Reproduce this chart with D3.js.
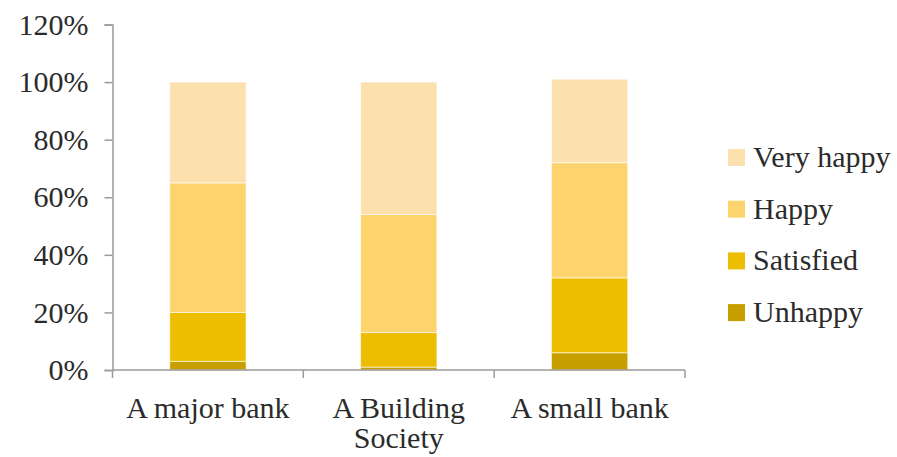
<!DOCTYPE html>
<html>
<head>
<meta charset="utf-8">
<script src="https://cdn.jsdelivr.net/npm/d3@7"></script>
<style>
  html, body { margin: 0; padding: 0; background: #fff; }
</style>
</head>
<body>
<svg id="chart" width="897" height="457"></svg>
<script>
// Survey: how happy customers are with their bank (share of respondents)
const categories = [["A major bank"], ["A Building", "Society"], ["A small bank"]];
const seriesNames = ["Unhappy", "Satisfied", "Happy", "Very happy"];
const unhappy   = [3, 1, 6];
const satisfied = [17, 12, 26];
const happy     = [45, 41, 40];
const veryHappy = [35, 46, 29];
const yTicks = [0, 20, 40, 60, 80, 100, 120];
const colors = ["#c79f00", "#edbe00", "#fdd36e", "#fce1ae"];

const FONT = "Liberation Serif";

const rows = categories.map((c, i) => ({
  key: c.join(" "),
  lines: c,
  "Unhappy": unhappy[i],
  "Satisfied": satisfied[i],
  "Happy": happy[i],
  "Very happy": veryHappy[i]
}));

const svg = d3.select("#chart");
const margin = { left: 112.5, right: 212, top: 24.5, bottom: 87 };
const W = 897, H = 457;

const x = d3.scaleBand()
  .domain(rows.map(r => r.key))
  .range([margin.left, W - margin.right])
  .paddingInner(0.6)
  .paddingOuter(0.3);

const xAxisScale = d3.scaleBand()
  .domain(rows.map(r => r.key))
  .range([margin.left, W - margin.right]);

const y = d3.scaleLinear().domain([0, 120]).range([H - margin.bottom, margin.top]);

const stack = d3.stack().keys(seriesNames);
const layers = stack(rows);
const color = d3.scaleOrdinal().domain(seriesNames).range(colors);

// stacked bars
svg.append("g").selectAll("g")
  .data(layers)
  .join("g")
  .attr("fill", d => color(d.key))
  .selectAll("rect")
  .data(d => d)
  .join("rect")
  .attr("x", d => x(d.data.key))
  .attr("width", x.bandwidth())
  .attr("y", d => y(d[1]))
  .attr("height", d => y(d[0]) - y(d[1]))
  .attr("stroke", "#fff")
  .attr("stroke-opacity", 0.6)
  .attr("stroke-width", 1);

const axisColor = "#9a9a9a";
const textColor = "#2b2b2b";

// y axis
const yAxis = svg.append("g")
  .attr("transform", `translate(${margin.left},0)`)
  .call(d3.axisLeft(y).tickValues(yTicks).tickFormat(d => d + "%").tickSize(8).tickPadding(16))
  .attr("font-family", FONT)
  .attr("font-size", 30);
yAxis.select(".domain").attr("stroke", axisColor).attr("stroke-width", 1.5);
yAxis.selectAll(".tick line").attr("stroke", axisColor).attr("stroke-width", 1.5);
yAxis.selectAll(".tick text").attr("fill", textColor);

// x axis with ticks on band boundaries
const xg = svg.append("g")
  .attr("transform", `translate(0,${y(0)})`)
  .attr("font-family", FONT)
  .attr("font-size", 30);
xg.append("line")
  .attr("x1", margin.left).attr("x2", W - margin.right)
  .attr("stroke", axisColor).attr("stroke-width", 1.5);
const bounds = rows.map(r => xAxisScale(r.key)).concat([W - margin.right]);
xg.selectAll("line.tk").data(bounds).join("line")
  .attr("class", "tk")
  .attr("x1", d => d).attr("x2", d => d)
  .attr("y1", 0).attr("y2", 8)
  .attr("stroke", axisColor).attr("stroke-width", 1.5);

const labels = xg.selectAll("text.cat").data(rows).join("text")
  .attr("class", "cat")
  .attr("x", d => xAxisScale(d.key) + xAxisScale.bandwidth() / 2)
  .attr("y", 48)
  .attr("text-anchor", "middle")
  .attr("fill", textColor);
labels.selectAll("tspan").data(d => d.lines.map(l => ({ l, x: xAxisScale(d.key) + xAxisScale.bandwidth() / 2 })))
  .join("tspan")
  .attr("x", d => d.x)
  .attr("dy", (d, i) => i === 0 ? 0 : 30)
  .text(d => d.l);

// legend, top entry = top of stack
const legendItems = seriesNames.slice().reverse();
const lg = svg.append("g")
  .attr("transform", "translate(728,149)")
  .attr("font-family", FONT)
  .attr("font-size", 30);
const item = lg.selectAll("g").data(legendItems).join("g")
  .attr("transform", (d, i) => `translate(0,${i * 51.7})`);
item.append("rect")
  .attr("width", 17).attr("height", 17)
  .attr("fill", d => color(d));
item.append("text")
  .attr("x", 25).attr("y", 18)
  .attr("fill", textColor)
  .text(d => d);
</script>
</body>
</html>
